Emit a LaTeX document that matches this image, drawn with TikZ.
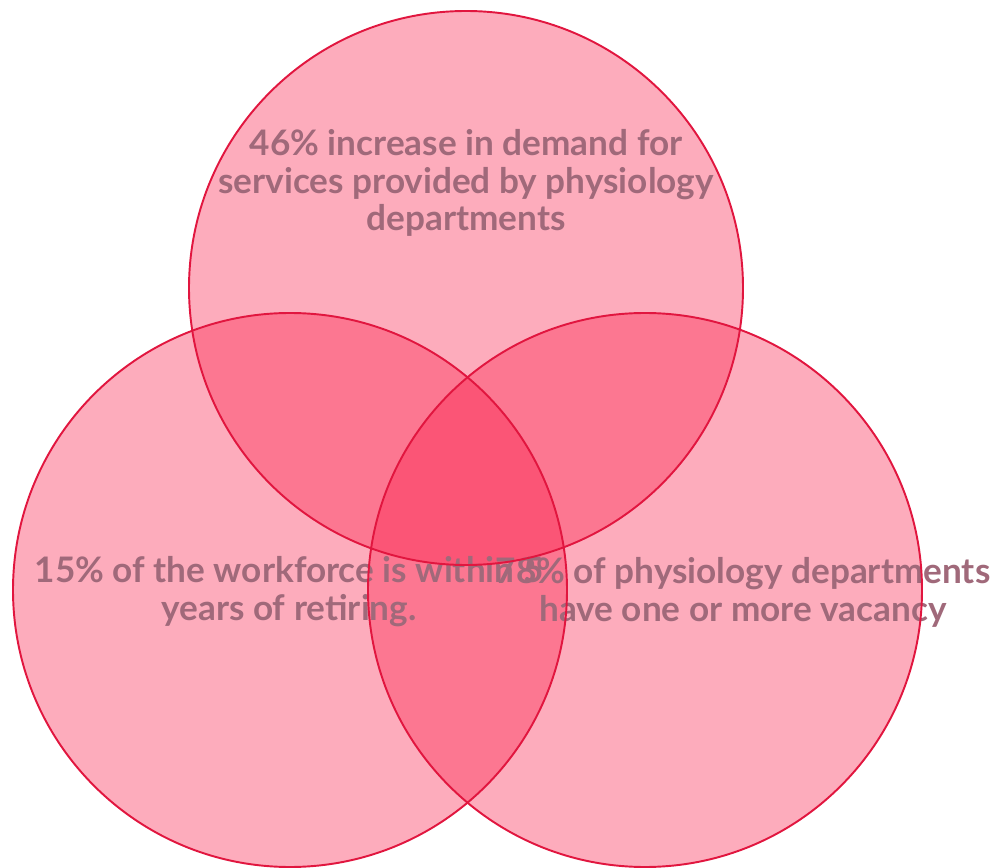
\documentclass[tikz,border=0pt]{standalone}
\usepackage{fontspec}
\setmainfont{Lato}
\usepackage{tikz}

\definecolor{vennred}{RGB}{250,25,70}
\definecolor{venntext}{RGB}{160,105,122}

\begin{document}
\begin{tikzpicture}[
  vennset/.style={fill=vennred, fill opacity=.36, draw=none},
  vennedge/.style={draw=vennred!90!black, line width=1.1pt},
  venntext/.style={text=venntext, font=\fontsize{20}{21.5}\selectfont\bfseries, align=center, inner sep=0pt}
]
\useasboundingbox (0,0) rectangle (19.8,17.34);%画像と同じ縦横比

%%三つの円の中心
\coordinate (demand) at (9.32,11.58);
\coordinate (retire) at (5.80,5.54);
\coordinate (vacancy) at (12.90,5.54);

%%塗り(半透明で重なりが濃くなる)
\fill [vennset] (demand) circle (5.54);
\fill [vennset] (retire) circle (5.54);
\fill [vennset] (vacancy) circle (5.54);

%%文字
\node [venntext] (demandtext) at (9.32,13.68)
  {46\% increase in demand for\\services provided by physiology\\departments};
\node [venntext] (retiretext) at (5.78,5.50)
  {15\% of the workforce is within 5\\years of retiring.};
\node [venntext] (vacancytext) at (14.86,5.50)
  {78\% of physiology departments\\have one or more vacancy};

%%輪郭線
\draw [vennedge] (demand) circle (5.54);
\draw [vennedge] (retire) circle (5.54);
\draw [vennedge] (vacancy) circle (5.54);
\end{tikzpicture}
\end{document}
